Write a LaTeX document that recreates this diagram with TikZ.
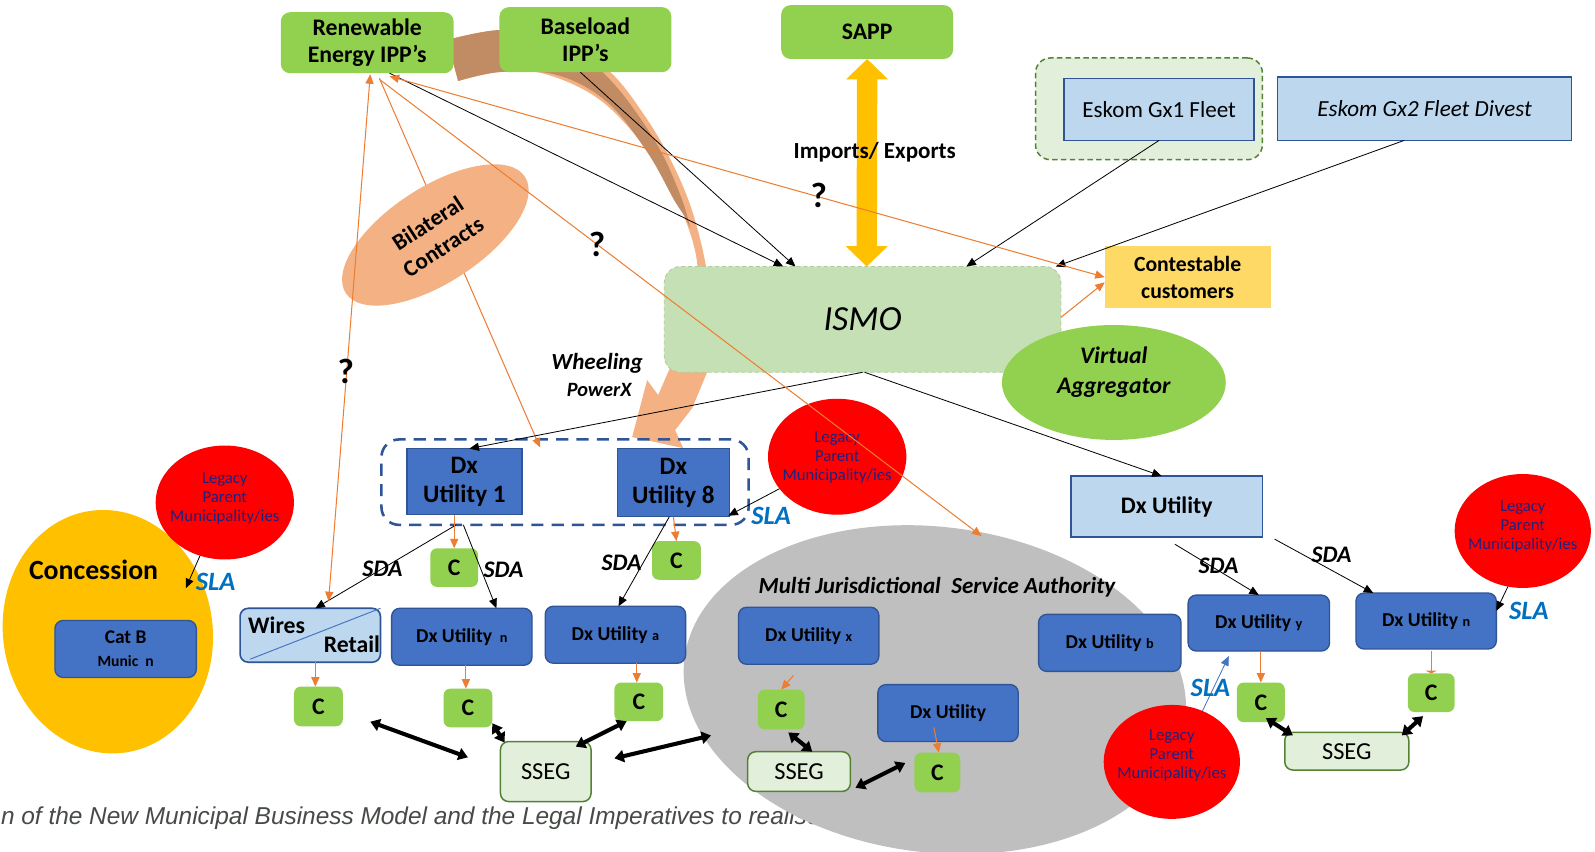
\documentclass[tikz,border=0pt]{standalone}
\usepackage{fontspec}
\setmainfont{Carlito}
\newfontfamily\capfont{Liberation Sans}
\usetikzlibrary{arrows.meta,shapes.geometric,calc}
\definecolor{cgreen}{HTML}{92D050}
\definecolor{cblue}{HTML}{4472C4}
\definecolor{cdblue}{HTML}{2F5597}
\definecolor{clb}{HTML}{BDD7EE}
\definecolor{cismo}{HTML}{C5E0B4}
\definecolor{cismob}{RGB}{175,205,155}
\definecolor{cpale}{HTML}{E2EFDA}
\definecolor{cdgreen}{HTML}{548235}
\definecolor{ccont}{HTML}{FFD966}
\definecolor{cyel}{HTML}{FFC000}
\definecolor{cnavy}{RGB}{32,32,128}
\definecolor{csla}{HTML}{0070C0}
\definecolor{cgray}{HTML}{BFBFBF}
\definecolor{corange}{HTML}{ED7D31}
\definecolor{cpeach}{HTML}{F4B183}
\definecolor{cbrown}{RGB}{193,139,99}
\definecolor{ccap}{RGB}{70,75,70}
\newcommand\fsz[2]{\fontsize{#1}{#2}\selectfont}
\newcommand\mkbox[7]{\node[#6,minimum width={((#4)-(#2))*0.75pt},minimum height={((#5)-(#3))*0.75pt}] (#1) at ({((#2)+(#4))/2},{((#3)+(#5))/2}) {#7};}
\begin{document}
\begin{tikzpicture}[x=0.75pt,y=-0.75pt,
 every node/.style={inner sep=0pt,outer sep=0pt,align=center},
 gbox/.style={rectangle,rounded corners=7pt,fill=cgreen,font=\bfseries\fsz{17.5}{20}},
 sqbox/.style={rectangle,fill=cblue,draw=cdblue,line width=1pt,font=\bfseries\fsz{18.5}{21}},
 dxbox/.style={rectangle,rounded corners=6pt,fill=cblue,draw=cdblue,line width=1pt,font=\bfseries\fsz{14.5}{17}},
 lbbox/.style={rectangle,fill=clb,draw=cdblue,line width=1.2pt},
 cbox/.style={rectangle,rounded corners=5pt,fill=cgreen,font=\bfseries\fsz{17.5}{20}},
 ssegbox/.style={rectangle,rounded corners=6pt,fill=cpale,draw=cdgreen,line width=1.1pt,font=\fsz{18}{20}},
 grpbox/.style={rectangle,rounded corners=11pt,fill=cpale,draw=cdgreen,line width=1.1pt,dash pattern=on 4pt off 2.5pt},
 dxgrp/.style={rectangle,rounded corners=13pt,draw=cdblue,line width=1.9pt,dash pattern=on 9pt off 6pt},
 ismobox/.style={rectangle,rounded corners=12pt,fill=cismo,draw=cismob,line width=0.6pt,dash pattern=on 3pt off 2pt,font=\itshape\fsz{26}{30}},
 contbox/.style={rectangle,fill=ccont,font=\bfseries\fsz{16}{20}},
 legacy/.style={ellipse,fill=red},
 legtxt/.style={text=cnavy,font=\fsz{12.3}{14}},
 slalbl/.style={text=csla,font=\bfseries\itshape\fsz{19.5}{22}},
 sdalbl/.style={font=\bfseries\itshape\fsz{17.5}{20}},
 qlbl/.style={font=\bfseries\fsz{26}{28}},
 blk/.style={draw=black,line width=0.6pt,-{Triangle[length=7pt,width=6pt]}},
 org/.style={draw=corange,line width=0.75pt,-{Triangle[length=7pt,width=6pt]}},
 orgb/.style={draw=corange,line width=0.75pt,{Triangle[length=7pt,width=6pt]}-{Triangle[length=7pt,width=6pt]}},
 thk/.style={draw=black,line width=3pt,{Triangle[length=7pt,width=9pt]}-{Triangle[length=7pt,width=9pt]}},
]
\useasboundingbox (0,0) rectangle (1568,837);
\fill[white] (0,0) rectangle (1568,837);

% caption
\node[anchor=base west,font=\capfont\itshape\fsz{18}{20},text=ccap] (cap) at (1,811) {n of the New Municipal Business Model and the Legal Imperatives to realise};

% big background regions
\node[ellipse,fill=cgray,minimum width=496*0.75pt,minimum height=320*0.75pt,rotate=-7] (MJSA) at (919,678) {};
\node[ellipse,fill=cyel,minimum width=206*0.75pt,minimum height=240*0.75pt,rotate=8.5] (CONC) at (106,621) {};

% wheeling curved arrow
\begin{scope}[scale=0.9833]
\fill[cpeach] plot[smooth,tension=0.6] coordinates {(447,40) (500,30) (560,36) (610,72) (642,112) (668,155) (690,205) (705,262) (712,320) (707,372)}
 -- (692,408) -- (675,430) -- (683,448) -- (632,437) -- (647,380) -- (658,395)
 -- plot[smooth,tension=0.6] coordinates {(668,372) (690,320) (697,263) (677,200) (647,150) (600,100) (545,74) (500,72) (458,81)} -- cycle;
\fill[cbrown] plot[smooth,tension=0.6] coordinates {(447,40) (500,30) (560,36) (598,68) (627,100) (660,150) (682,200) (690,228)}
 -- plot[smooth,tension=0.6] coordinates {(684,215) (674,200) (647,152) (607,102) (557,75) (500,72) (458,81)} -- cycle;
\end{scope}

% top boxes
\mkbox{RE}{276}{12}{446}{72}{gbox}{Renewable\\Energy IPP’s}
\mkbox{BL}{491}{7}{660}{71}{gbox}{Baseload\\IPP’s}
\mkbox{SAPP}{768}{5}{937}{58}{gbox}{SAPP}
\mkbox{GXG}{1018}{57}{1241}{157}{grpbox}{}
\mkbox{GX1}{1046}{77}{1233}{138}{lbbox,font=\fsz{17}{20}}{Eskom Gx1 Fleet}
\mkbox{GX2}{1256}{76}{1545}{138}{lbbox,font=\itshape\fsz{17}{20}}{Eskom Gx2 Fleet Divest}
\mkbox{ISMO}{653}{262}{1043}{366}{ismobox}{ISMO}
\draw[cyel,line width=15pt,{Triangle[length=15pt,width=30pt]}-{Triangle[length=15pt,width=30pt]}] (SAPP.south) -- ($(ISMO.north west)+(199,0)$);
\node[font=\bfseries\fsz{17}{20}] (imp) at (860,150) {Imports/ Exports};
\mkbox{CONT}{1086}{242}{1249}{303}{contbox}{Contestable\\customers}
\node[ellipse,fill=cgreen,minimum width=220*0.75pt,minimum height=113*0.75pt] (VA) at (1095,376) {};
\node[font=\bfseries\itshape\fsz{17.5}{22}] (VAt) at (1095,366) {Virtual\\Aggregator};

% middle
\mkbox{DXG}{375}{432}{736}{516}{dxgrp}{}
\mkbox{DX1}{400}{441}{513}{506}{sqbox}{Dx\\Utility 1}
\mkbox{DX8}{607}{441}{717}{508}{sqbox}{Dx\\Utility 8}
\node[legacy,minimum width=136*0.75pt,minimum height=112*0.75pt] (L1) at (221,494) {};
\node[legtxt] (L1t) at (221,490) {Legacy\\Parent\\Municipality/ies};
\node[legacy,minimum width=136*0.75pt,minimum height=114*0.75pt] (L2) at (823,449) {};
\node[legtxt] (L2t) at (823,450) {Legacy\\Parent\\Municipality/ies};
\node[legacy,minimum width=134*0.75pt,minimum height=112*0.75pt] (L3) at (1497,522) {};
\node[legtxt] (L3t) at (1497,518) {Legacy\\Parent\\Municipality/ies};
\node[legacy,minimum width=134*0.75pt,minimum height=112*0.75pt] (L4) at (1152,749) {};
\node[legtxt] (L4t) at (1152,743) {Legacy\\Parent\\Municipality/ies};
\mkbox{DXR}{1053}{468}{1241}{528}{lbbox,font=\bfseries\fsz{17.5}{20}}{Dx Utility}

% lower boxes
\node[font=\bfseries\fsz{20.5}{24}] (conct) at (92,560) {Concession};
\mkbox{CATB}{54}{610}{193}{666}{dxbox,font=\bfseries\fsz{14.3}{17}}{Cat B\\{\fsz{11.5}{14}Munic\ \ n}}
\mkbox{WR}{236}{598}{374}{651}{lbbox,rounded corners=6pt}{}
\draw[cblue,line width=0.7pt] ($(WR.south west)+(10,-3)$) -- (WR.north east);
\node[font=\bfseries\fsz{17.5}{20}] (wires) at (272,615) {Wires};
\node[font=\bfseries\fsz{17.5}{20}] (retail) at (346,633) {Retail};
\mkbox{DXN}{385}{598}{523}{654}{dxbox}{Dx Utility\ \,{\fsz{10.5}{12}n}}
\mkbox{DXA}{536}{596}{674}{652}{dxbox}{Dx Utility\ {\fsz{10.5}{12}a}}
\node[font=\bfseries\itshape\fsz{17}{20}] (mjsat) at (921,577) {Multi Jurisdictional\ \ Service Authority};
\mkbox{DXX}{726}{597}{864}{653}{dxbox}{Dx Utility\ {\fsz{10.5}{12}x}}
\mkbox{DXB}{1021}{604}{1161}{660}{dxbox}{Dx Utility\ {\fsz{10.5}{12}b}}
\mkbox{DXM}{863}{673}{1001}{729}{dxbox}{Dx Utility}
\mkbox{DXY}{1168}{585}{1307}{640}{dxbox}{Dx Utility\ {\fsz{10.5}{12}y}}
\mkbox{DXNR}{1333}{583}{1471}{638}{dxbox}{Dx Utility\ {\fsz{10.5}{12}n}}
\mkbox{C1}{423}{539}{470}{577}{cbox}{C}
\mkbox{C2}{641}{532}{689}{570}{cbox}{C}
\mkbox{C3}{289}{675}{337}{714}{cbox}{C}
\mkbox{C4}{436}{677}{484}{715}{cbox}{C}
\mkbox{C5}{604}{671}{652}{709}{cbox}{C}
\mkbox{C6}{745}{678}{791}{717}{cbox}{C}
\mkbox{C7}{899}{740}{944}{779}{cbox}{C}
\mkbox{C8}{1216}{671}{1263}{710}{cbox}{C}
\mkbox{C9}{1384}{662}{1430}{700}{cbox}{C}
\mkbox{S1}{492}{729}{581}{788}{ssegbox}{SSEG}
\mkbox{S2}{735}{739}{836}{778}{ssegbox}{SSEG}
\mkbox{S3}{1263}{720}{1385}{757}{ssegbox}{SSEG}

% bilateral line (behind ellipse) and ellipse
\draw[org] ($(RE.south)+(12,5)$) -- ($(DXG.north west)+(156,8)$);
\node[ellipse,fill=cpeach,minimum width=210*0.75pt,minimum height=94*0.75pt,rotate=33] (BIL) at (428,231) {};
\node[rotate=33,font=\bfseries\fsz{17}{21}] (BILt) at (428,231) {Bilateral\\Contracts};

% black connectors
\draw[blk] ($(RE.south)+(22,0)$) -- ($(ISMO.north west)+(117,0)$);
\draw[blk] ($(BL.south)+(-5,0)$) -- ($(ISMO.north west)+(129,0)$);
\draw[blk] (GX1.south) -- ($(ISMO.north west)+(297,0)$);
\draw[blk] ($(GX2.south)+(-20,0)$) -- ($(ISMO.north east)+(-5,0)$);
\draw[blk] (ISMO.south) -- ($(DX1.north)+(5,0)$);
\draw[blk] ($(ISMO.south)+(2,0)$) -- ($(DXR.north)+(-5,0)$);
\draw[blk] (L2.209) -- ($(DX8.south east)+(-1,-1)$);
\draw[blk] (L1.245) -- ($(L1.245)+(-14,32)$);
\draw[blk] ($(DXG.south)+(-107,0)$) -- ($(WR.north)+(5,0)$);
\draw[blk] ($(DXG.south)+(-100,0)$) -- ($(DXN.north)+(34,0)$);
\draw[blk] ($(DX8.south)+(-4,0)$) -- ($(DXA.north)+(3,0)$);
\draw[blk] ($(DXR.south)+(8,7)$) -- (DXY.north);
\draw[blk] ($(DXR.south east)+(12,2)$) -- ($(DXNR.north west)+(17,0)$);
\draw[blk] (L3.255) -- ($(DXNR.east)+(0,-10)$);
\draw[blk,draw=cblue] (L4.59) -- ($(DXY.south west)+(40,5)$);

% orange connectors
\draw[orgb] ($(RE.south)+(3,1)$) -- ($(WR.north)+(18,-7)$);
\draw[orgb] ($(RE.south)+(22,3)$) -- (CONT.west);
\draw[org] ($(RE.south)+(12,6)$) -- ($(MJSA.center)+(46,-151)$);
\draw[org] ($(ISMO.east)+(0,-2)$) -- ($(CONT.west)+(0,5)$);
\draw[org] ($(DX1.south)+(-10,0)$) -- (C1.north);
\draw[org] (DX8.south) -- (C2.north);
\draw[org] ($(WR.south)+(5,0)$) -- ($(C3.north)+(-3,0)$);
\draw[org] ($(DXN.south)+(4,0)$) -- ($(C4.north)+(-2,0)$);
\draw[org] ($(DXA.south)+(21,0)$) -- ($(C5.north)+(-2,0)$);
\draw[org] ($(DXX.south)+(-15,11)$) -- (C6.north);
\draw[org] ($(DXM.south)+(-14,-14)$) -- ($(C7.north)+(1.5,0)$);
\draw[org] ($(DXY.south)+(2,0)$) -- (C8.north);
\draw[org,-{Triangle[length=2pt,width=8pt]}] ($(DXNR.south)+(5,2)$) -- (C9.north);

% thick SSEG links
\draw[thk] ($(C3.east)+(27,15)$) -- ($(S1.west)+(-32,-14)$);
\draw[thk] ($(C4.south east)+(0,-4)$) -- ($(S1.north west)+(4,1)$);
\draw[thk] ($(C5.south)+(-12,0)$) -- ($(S1.north east)+(-15,5)$);
\draw[thk] ($(S1.east)+(23,-13)$) -- ($(MJSA.center)+(-220,45)$);
\draw[thk] ($(C6.south)+(7,3)$) -- ($(S2.north)+(13,0)$);
\draw[thk] ($(S2.east)+(5,16)$) -- ($(C7.west)+(-9,-9.5)$);
\draw[thk] ($(C8.south)+(5,-4)$) -- ($(S3.north west)+(8,3)$);
\draw[thk] ($(C9.south)+(-8,4)$) -- ($(S3.north east)+(-7,3)$);

% labels
\node[qlbl] (q1) at (805,192) {?};
\node[qlbl] (q2) at (587,240) {?};
\node[qlbl] (q3) at (340,365) {?};
\node[font=\bfseries\itshape\fsz{17}{20}] (wh) at (587,357) {Wheeling};
\node[font=\bfseries\itshape\fsz{15}{18}] (pwx) at (589,383) {PowerX};
\node[slalbl] (sla1) at (212,572) {SLA};
\node[slalbl] (sla2) at (758,507) {SLA};
\node[slalbl] (sla3) at (1190,676) {SLA};
\node[slalbl] (sla4) at (1503,601) {SLA};
\node[sdalbl] (sda1) at (376,559) {SDA};
\node[sdalbl] (sda2) at (495,560) {SDA};
\node[sdalbl] (sda3) at (611,553) {SDA};
\node[sdalbl] (sda4) at (1198,556) {SDA};
\node[sdalbl] (sda5) at (1309,545) {SDA};
\end{tikzpicture}
\end{document}
